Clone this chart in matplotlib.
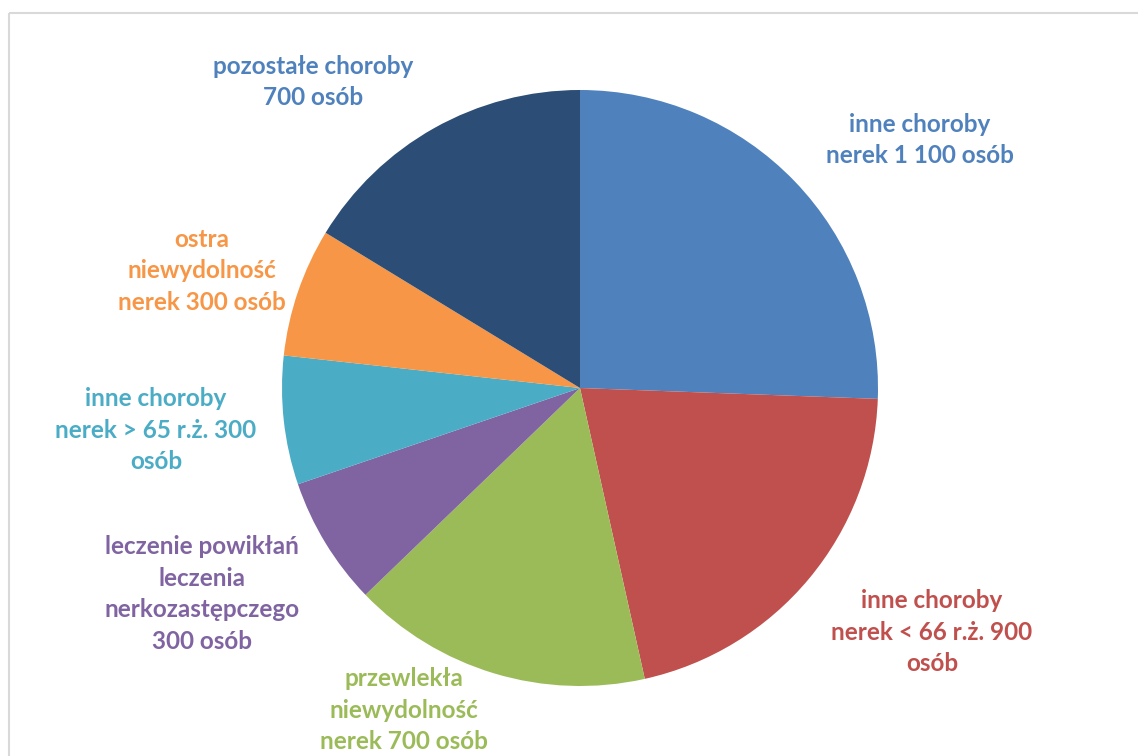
import matplotlib.pyplot as plt
import matplotlib.patches as mpatches

# data
labels = ['inne choroby\nnerek 1 100 osób',
          'inne choroby\nnerek < 66 r.ż. 900\nosób',
          'przewlekła\nniewydolność\nnerek 700 osób',
          'leczenie powikłań\nleczenia\nnerkozastępczego\n300 osób',
          'inne choroby\nnerek > 65 r.ż. 300\nosób',
          'ostra\nniewydolność\nnerek 300 osób',
          'pozostałe choroby\n700 osób']
values = [1100, 900, 700, 300, 300, 300, 700]
colors = ['#4F81BD', '#C0504D', '#9BBB59', '#8064A2', '#4BACC6', '#F79646', '#2C4D75']
label_colors = ['#4F81BD', '#C0504D', '#9BBB59', '#8064A2', '#4BACC6', '#F79646', '#4F81BD']

# label centres in pixels (x, y from top)
label_pos = [(920, 140), (932, 632), (404, 710), (202, 594), (156, 430), (202, 271), (313, 82)]

W, H = 1138, 756
fig = plt.figure(figsize=(W / 100, H / 100), dpi=100)
ax = fig.add_axes([0, 0, 1, 1])

# chart frame
fig.patches.append(mpatches.Rectangle((9, H - 13), W + 20, -(H + 20), transform=None,
                                      fill=False, edgecolor='#D9D9D9', linewidth=1.5))

ax.pie(values, colors=colors, startangle=90, counterclock=False,
       center=(580, H - 388), radius=298,
       wedgeprops=dict(linewidth=0))

for lab, (x, y), c in zip(labels, label_pos, label_colors):
    ax.text(x, H - y, lab, ha='center', va='center', color=c, fontsize=17.5,
            fontweight='bold', family=['Lato', 'DejaVu Sans'], linespacing=1.45)

ax.set_xlim(0, W)
ax.set_ylim(0, H)
ax.set_aspect('equal')
ax.axis('off')

fig.savefig('out.png', dpi=100)
